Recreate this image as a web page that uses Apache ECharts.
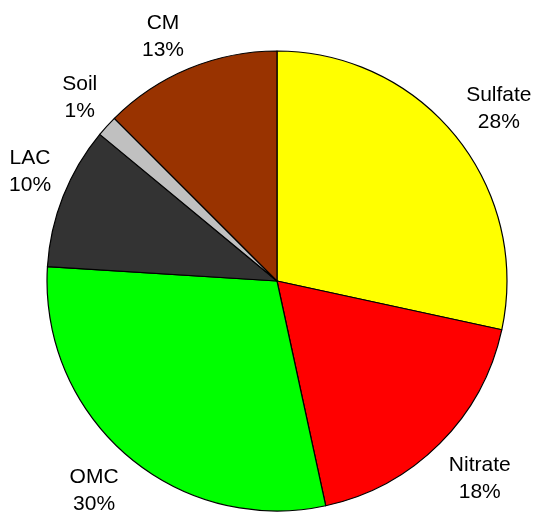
<!DOCTYPE html>
<html>
<head>
<meta charset="utf-8">
<script src="https://cdn.jsdelivr.net/npm/echarts@6/dist/echarts.min.js"></script>
<style>
  html, body { margin: 0; padding: 0; background: #fff; }
  #chart { width: 536px; height: 514px; }
</style>
</head>
<body>
<div id="chart"></div>
<script>
const categories = ['Sulfate', 'Nitrate', 'OMC', 'LAC', 'Soil', 'CM']
// slice sizes as measured from the angles in the picture
const shares = [28.4, 18.2, 29.4, 10.0, 1.5, 12.5]
// percentages as printed in the labels
const shareLabels = ['28%', '18%', '30%', '10%', '1%', '13%']
const colors = ['#ffff00', '#ff0000', '#00ff00', '#333333', '#c0c0c0', '#993300']

const CX = 277
const CY = 281
const R = 230
const LABEL_GAP = 13

const total = shares.reduce((a, b) => a + b, 0)
const starts = []
shares.reduce((acc, v, i) => { starts[i] = acc; return acc + v }, 0)

const chart = echarts.init(document.getElementById('chart'))

// put each label just outside its slice, nearest box corner a fixed gap from the edge
function placeLabel(params) {
  const i = params.dataIndex
  const mid = (starts[i] + shares[i] / 2) / total * Math.PI * 2
  const ux = Math.sin(mid)
  const uy = -Math.cos(mid)
  const w = params.labelRect.width
  const h = params.labelRect.height
  const cornerX = CX + (R + LABEL_GAP) * ux
  const cornerY = CY + (R + LABEL_GAP) * uy
  return {
    x: cornerX + Math.sign(ux) * w / 2,
    y: cornerY + Math.sign(uy) * (h / 2 - 4.5) + 3,
    align: 'center',
    verticalAlign: 'middle'
  }
}

chart.setOption({
  animation: false,
  series: [
    {
      type: 'pie',
      center: [CX, CY],
      radius: [0, R],
      startAngle: 90,
      clockwise: true,
      silent: true,
      itemStyle: { borderColor: '#000', borderWidth: 1.2 },
      label: {
        show: true,
        position: 'inside',
        rotate: 0,
        formatter: p => p.name + '\n' + shareLabels[p.dataIndex],
        color: '#000',
        fontFamily: 'Liberation Sans, Arial, sans-serif',
        fontSize: 21,
        lineHeight: 27,
        align: 'center'
      },
      labelLine: { show: false },
      labelLayout: placeLabel,
      data: categories.map((name, i) => ({
        name,
        value: shares[i],
        itemStyle: { color: colors[i] }
      }))
    }
  ]
})
</script>
</body>
</html>
